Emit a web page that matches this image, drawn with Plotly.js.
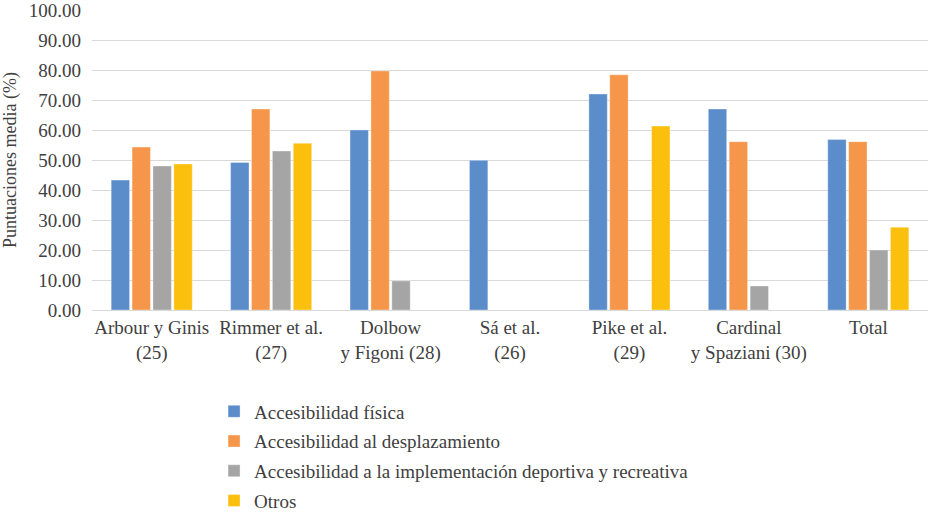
<!DOCTYPE html>
<html>
<head>
<meta charset="utf-8">
<script src="https://cdn.plot.ly/plotly-3.0.1.min.js"></script>
<style>
  html, body { margin: 0; padding: 0; background: #fff; }
  #chart { width: 929px; height: 512px; }
</style>
</head>
<body>
<div id="chart"></div>
<script>
const studies = [
	"Arbour y Ginis<br>(25)",
	"Rimmer et al.<br>(27)",
	"Dolbow<br>y Figoni (28)",
	"Sá et al.<br>(26)",
	"Pike et al.<br>(29)",
	"Cardinal<br>y Spaziani (30)",
	"Total"
];

const seriesNames = [
	"Accesibilidad física",
	"Accesibilidad al desplazamiento",
	"Accesibilidad a la implementación deportiva y recreativa",
	"Otros"
];

// null = no bar drawn for that study
const fisica = [43.3, 49.2, 60.0, 49.9, 72.0, 67.0, 56.8];
const desplazamiento = [54.3, 67.0, 79.7, null, 78.4, 56.1, 56.1];
const implementacion = [48.0, 53.0, 9.7, null, null, 8.0, 20.0];
const otros = [48.7, 55.6, null, null, 61.3, null, 27.6];

const colors = ["#5b8dcb", "#f5964a", "#a5a5a5", "#fbbf0d"];
const allSeries = [fisica, desplazamiento, implementacion, otros];

const textFont = "'Liberation Serif', serif";

let data = allSeries.map((values, i) => ({
	type: "bar",
	name: seriesNames[i],
	x: studies,
	y: values,
	legendgroup: "g" + i,
	marker: {
		color: colors[i],
		line: { color: "rgba(255,255,255,0.35)", width: 1 }
	},
	hoverinfo: "x+y+name"
}));

let layout = {
	width: 929,
	height: 512,
	margin: { l: 92, r: 1, t: 10, b: 202, autoexpand: false },
	paper_bgcolor: "#ffffff",
	plot_bgcolor: "#ffffff",
	barmode: "group",
	bargap: 0.3,
	bargroupgap: 0.12,
	font: { family: textFont, color: "#404040", size: 19 },
	showlegend: true,
	legend: {
		orientation: "v",
		x: 0.146,
		xanchor: "left",
		y: -0.275,
		yanchor: "top",
		traceorder: "grouped",
		tracegroupgap: 2,
		font: { family: textFont, size: 19, color: "#404040" },
		itemwidth: 30
	},
	xaxis: {
		type: "category",
		showgrid: false,
		showline: true,
		linecolor: "#d9d9d9",
		linewidth: 1,
		ticks: "",
		tickfont: { family: textFont, size: 19, color: "#404040" }
	},
	yaxis: {
		range: [0, 100],
		dtick: 10,
		tickformat: ".2f",
		showgrid: true,
		gridcolor: "#d9d9d9",
		gridwidth: 1,
		zeroline: false,
		showline: false,
		ticks: "",
		ticklabelstandoff: 10,
		ticklabeloverflow: "allow",
		tickfont: { family: textFont, size: 19, color: "#404040" },
		title: {
			text: "Puntuaciones media (%)",
			font: { family: textFont, size: 18, color: "#404040" },
			standoff: 11
		}
	}
};

Plotly.newPlot("chart", data, layout, { displayModeBar: false, staticPlot: true });
</script>
</body>
</html>
